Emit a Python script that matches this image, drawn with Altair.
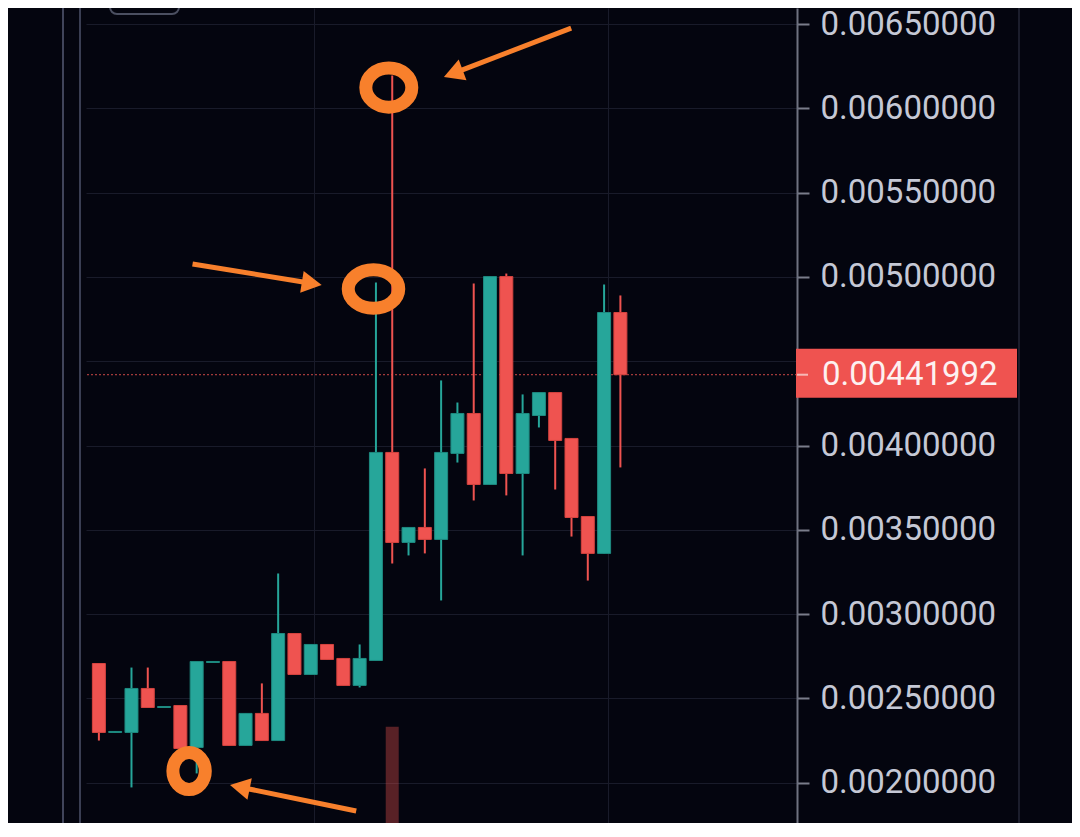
import math
import altair as alt
import pandas as pd

# ---------------- data ----------------
t = list(range(33))
opens = [0.002707, 0.002298, 0.002298, 0.002559, 0.002446, 0.002458, 0.002209, 0.002713,
         0.002719, 0.002221, 0.002411, 0.002250, 0.002885, 0.002642, 0.002820, 0.002737,
         0.002577, 0.002725, 0.003959, 0.003425, 0.003514, 0.003443, 0.003953, 0.004190,
         0.003769, 0.005002, 0.003834, 0.004178, 0.004314, 0.004042, 0.003579, 0.003360,
         0.004789]
highs = [0.002707, 0.002304, 0.002683, 0.002683, 0.002452, 0.002458, 0.002719, 0.002719,
         0.002719, 0.002411, 0.002589, 0.003241, 0.002885, 0.002820, 0.002820, 0.002737,
         0.002820, 0.004967, 0.006195, 0.003514, 0.003864, 0.004386, 0.004255, 0.004961,
         0.005002, 0.005020, 0.004303, 0.004314, 0.004314, 0.004042, 0.003579, 0.004955,
         0.004890]
lows = [0.002250, 0.002298, 0.001972, 0.002446, 0.002446, 0.002203, 0.002055, 0.002713,
        0.002221, 0.002221, 0.002250, 0.002250, 0.002642, 0.002642, 0.002731, 0.002577,
        0.002565, 0.002725, 0.003300, 0.003348, 0.003360, 0.003081, 0.003899, 0.003674,
        0.003769, 0.003704, 0.003348, 0.004107, 0.003739, 0.003460, 0.003199, 0.003360,
        0.003870]
closes = [0.002298, 0.002304, 0.002559, 0.002446, 0.002452, 0.002203, 0.002719, 0.002719,
          0.002221, 0.002411, 0.002250, 0.002885, 0.002642, 0.002820, 0.002731, 0.002577,
          0.002737, 0.003959, 0.003425, 0.003514, 0.003443, 0.003959, 0.004190, 0.003769,
          0.005002, 0.003834, 0.004190, 0.004314, 0.004030, 0.003573, 0.003360, 0.004789,
          0.00441992]
volumes = [6, 3, 9, 5, 3, 7, 12, 2, 8, 5, 4, 14, 6, 4, 3, 5, 6, 20.5, 33.3, 7, 6, 15,
           9, 13, 16, 18, 11, 6, 9, 10, 8, 17, 11]
price_ticks = [0.0020, 0.0025, 0.0030, 0.0035, 0.0040, 0.0045, 0.0050, 0.0055, 0.0060, 0.0065]
hidden_tick = 0.0045  # covered by the last-price label
time_grid = [13.19, 31.22]

# annotation anchors (candle index, price)
ring_t = [17.79, 16.85, 5.535]
ring_v = [0.006123, 0.004928, 0.002069]
arrow_tail_t = [28.98, 5.747, 15.79]
arrow_tail_v = [0.006476, 0.005077, 0.001832]
arrow_tip_t = [21.17, 13.67, 8.046]
arrow_tip_v = [0.006186, 0.004952, 0.001986]

# ---------------- styling ----------------
BG = "#04050f"
UP, DOWN = "#26a69a", "#ef5350"
UP_EDGE, DOWN_EDGE = "#1e8a80", "#d5433f"
ORANGE = "#f8802c"
GRID = "#191b2a"

PLOT_W, PLOT_H = 711, 815
X_DOM = [-0.484, 42.53]
Y_DOM = [0.001761, 0.006595]
VOL_DOM = [21.7, 120]

df = pd.DataFrame({"t": t, "open": opens, "high": highs, "low": lows,
                   "close": closes, "volume": volumes})
df["dir"] = ["up" if c >= o else "down" for o, c in zip(opens, closes)]

xs = alt.Scale(domain=X_DOM, nice=False, zero=False)
ys = alt.Scale(domain=Y_DOM, nice=False, zero=False)

X_AXIS = alt.Axis(values=time_grid, grid=True, gridColor=GRID, gridWidth=1,
                  labels=False, ticks=False, domain=False, title=None)
Y_AXIS = alt.Axis(orient="right", values=price_ticks, format=".8f", title=None,
                  labelExpr=f"abs(datum.value - {hidden_tick}) < 1e-9 ? '' : datum.label",
                  labelFont="Roboto", labelFontSize=33, labelColor="#c5c8d5",
                  labelPadding=11, tickSize=12, tickWidth=2, tickColor="#7a7d8b",
                  domainColor="#6f7280", domainWidth=2,
                  grid=True, gridColor=GRID, gridWidth=1)

dir_color = alt.Color("dir:N", scale=alt.Scale(domain=["up", "down"], range=[UP, DOWN]),
                      legend=None)
dir_stroke = alt.Stroke("dir:N", scale=alt.Scale(domain=["up", "down"],
                                                 range=[UP_EDGE, DOWN_EDGE]), legend=None)

base = alt.Chart(df)
one = pd.DataFrame({"_": [0]})

vol = base.mark_bar(size=13, clip=True, opacity=0.36).encode(
    x=alt.X("t:Q", scale=xs, axis=X_AXIS),
    y=alt.Y("volume:Q", scale=alt.Scale(domain=VOL_DOM, nice=False, zero=False), axis=None),
    y2=alt.datum(0),
    color=dir_color,
)

wick = base.mark_rule(strokeWidth=2).encode(
    x=alt.X("t:Q", scale=xs, axis=X_AXIS),
    y=alt.Y("low:Q", scale=ys, axis=Y_AXIS),
    y2="high:Q",
    color=dir_color,
)
body = base.mark_bar(size=13, strokeWidth=1).encode(
    x=alt.X("t:Q", scale=xs, axis=X_AXIS),
    y=alt.Y("open:Q", scale=ys, axis=Y_AXIS),
    y2="close:Q",
    color=dir_color,
    stroke=dir_stroke,
)

last = pd.DataFrame({"price": [closes[-1]]})
pline = alt.Chart(last).mark_rule(color=DOWN, strokeDash=[2, 2], strokeWidth=1,
                                  opacity=0.85).encode(
    y=alt.Y("price:Q", scale=ys, axis=Y_AXIS))
pbox = alt.Chart(last).mark_rect(color=DOWN, yOffset=-26, y2Offset=23).encode(
    x=alt.value(710), x2=alt.value(931),
    y=alt.Y("price:Q", scale=ys, axis=Y_AXIS), y2="price:Q")
ptick = alt.Chart(last).mark_rule(color="#f6b9b7", strokeWidth=2).encode(
    x=alt.value(711), x2=alt.value(722),
    y=alt.Y("price:Q", scale=ys, axis=Y_AXIS))
ptext = alt.Chart(last).mark_text(align="left", baseline="middle", font="Roboto",
                                  fontSize=33, color="#fdf1f1").encode(
    x=alt.value(736),
    y=alt.Y("price:Q", scale=ys, axis=Y_AXIS),
    text=alt.Text("price:Q", format=".8f"))

# interface chrome
left_line1 = alt.Chart(one).mark_rule(color="#40445a", strokeWidth=2).encode(
    x=alt.value(-23), y=alt.value(0), y2=alt.value(PLOT_H))
left_line2 = alt.Chart(one).mark_rule(color="#3a3e53", strokeWidth=2).encode(
    x=alt.value(-6), y=alt.value(0), y2=alt.value(PLOT_H))
right_line = alt.Chart(one).mark_rule(color="#1b1d2c", strokeWidth=2).encode(
    x=alt.value(933), y=alt.value(0), y2=alt.value(PLOT_H))
button = alt.Chart(one).mark_rect(fillOpacity=0, stroke="#4b4f61", strokeWidth=2,
                                  cornerRadius=7).encode(
    x=alt.value(24), x2=alt.value(93), y=alt.value(-20), y2=alt.value(6))


def ellipse_path(r):
    k = 0.5523
    return (f"M1,0C1,{k*r:.4f},{k:.4f},{r:.4f},0,{r:.4f}"
            f"C{-k:.4f},{r:.4f},-1,{k*r:.4f},-1,0"
            f"C-1,{-k*r:.4f},{-k:.4f},{-r:.4f},0,{-r:.4f}"
            f"C{k:.4f},{-r:.4f},1,{-k*r:.4f},1,0Z")


ring_shapes = [(0.85, 46), (0.76, 50.5), (1.14, 32.4)]
rings = []
for i, (r, w) in enumerate(ring_shapes):
    rd = pd.DataFrame({"t": [ring_t[i]], "v": [ring_v[i]]})
    rings.append(alt.Chart(rd).mark_point(shape=ellipse_path(r), size=w * w, filled=False,
                                          strokeWidth=13, color=ORANGE, opacity=1).encode(
        x=alt.X("t:Q", scale=xs, axis=X_AXIS),
        y=alt.Y("v:Q", scale=ys, axis=Y_AXIS)))

px_t = PLOT_W / (X_DOM[1] - X_DOM[0])
px_v = PLOT_H / (Y_DOM[1] - Y_DOM[0])
ad = pd.DataFrame({"t0": arrow_tail_t, "v0": arrow_tail_v,
                   "t1": arrow_tip_t, "v1": arrow_tip_v})
ad["te"] = ad.t0 + 0.88 * (ad.t1 - ad.t0)
ad["ve"] = ad.v0 + 0.88 * (ad.v1 - ad.v0)
ad["ang"] = [math.degrees(math.atan2((b - a) * px_t, (d - c) * px_v)) % 360
             for a, b, c, d in zip(ad.t0, ad.t1, ad.v0, ad.v1)]

shafts = alt.Chart(ad).mark_rule(color=ORANGE, strokeWidth=5).encode(
    x=alt.X("t0:Q", scale=xs, axis=X_AXIS), x2="te:Q",
    y=alt.Y("v0:Q", scale=ys, axis=Y_AXIS), y2="ve:Q")
heads = alt.Chart(ad).mark_point(shape="M0,0L0.55,1L-0.55,1Z", size=1600, filled=True,
                                 color=ORANGE, opacity=1, strokeWidth=0).encode(
    x=alt.X("t1:Q", scale=xs, axis=X_AXIS),
    y=alt.Y("v1:Q", scale=ys, axis=Y_AXIS),
    angle=alt.Angle("ang:Q", scale=None))

price_layer = alt.layer(left_line1, left_line2, right_line, button, pline, wick, body,
                        pbox, ptick, ptext, *rings, shafts, heads)

chart = alt.layer(vol, price_layer).resolve_scale(y="independent").properties(
    width=PLOT_W, height=PLOT_H, background=BG,
    padding={"left": 78, "top": 0, "right": 275, "bottom": 0},
    autosize=alt.AutoSizeParams(type="none"),
).configure_view(stroke=None)

chart.save("out.html", embed_options={"renderer": "svg", "actions": False})
